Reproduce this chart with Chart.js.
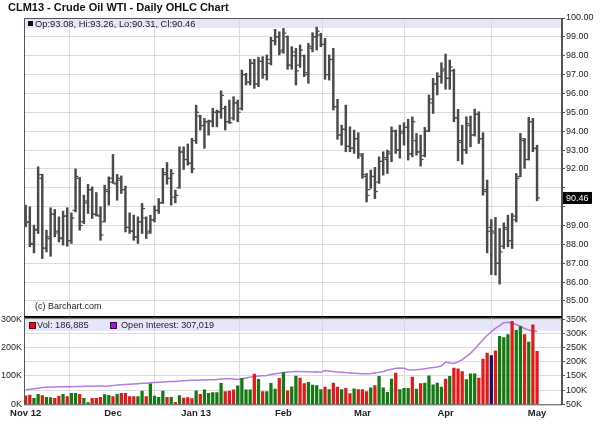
<!DOCTYPE html>
<html>
<head>
<meta charset="utf-8">
<script src="https://cdn.jsdelivr.net/npm/chart.js@4.4.1/dist/chart.umd.min.js"></script>
<style>
body { margin: 0; background: #fff; font-family: 'Liberation Sans', Arial, sans-serif; }
#wrap { position: relative; width: 600px; height: 439px; overflow: hidden; }
#wrap canvas { position: absolute; left: 0; z-index: 1; }
#priceCv { top: 0; }
#volCv { top: 300px; }
.band { position: absolute; left: 25px; width: 537px; background: #e6e6f8; z-index: 0; }
.txt { position: absolute; z-index: 2; color: #222; white-space: nowrap; }
.sq { position: absolute; z-index: 2; width: 5px; height: 5px; }
</style>
</head>
<body>
<div id="wrap">
  <div class="txt" style="left:8px;top:2px;font-weight:bold;font-size:11px;line-height:11px;color:#111">CLM13 - Crude Oil WTI - Daily OHLC Chart</div>
  <div class="band" style="top:19px;height:8.5px"></div>
  <div class="sq" style="left:28px;top:21px;background:#111"></div>
  <div class="txt" style="left:35px;top:18.5px;font-size:9.4px;line-height:10px">Op:93.08, Hi:93.26, Lo:90.31, Cl:90.46</div>
  <div class="txt" style="left:35px;top:301px;font-size:9px;line-height:10px">(c) Barchart.com</div>
  <div class="band" style="top:318px;height:13px"></div>
  <div class="sq" style="left:29px;top:322px;background:#e01010;border:0.5px solid #600"></div>
  <div class="txt" style="left:37px;top:320px;font-size:9.3px;line-height:10px">Vol: 186,885</div>
  <div class="sq" style="left:110px;top:322px;background:#9020d0;border:0.5px solid #404"></div>
  <div class="txt" style="left:121px;top:320px;font-size:9.1px;line-height:10px">Open Interest: 307,019</div>
  <canvas id="priceCv" width="600" height="325"></canvas>
  <canvas id="volCv" width="600" height="139"></canvas>
</div>
<script>
// month gridlines (bar index) and their labels
const monthIdx = [0, 21, 41, 62, 81, 101, 123];
const monthLbl = ['Nov 12', 'Dec', 'Jan 13', 'Feb', 'Mar', 'Apr', 'May'];
const priceTicks = [85, 86, 87, 88, 89, 90, 91, 92, 93, 94, 95, 96, 97, 98, 99, 100];
const volTicks = [0, 100, 200, 300];
const oiTicks = [50, 100, 150, 200, 250, 300, 350];

// daily OHLC, Nov 1 2012 .. May 1 2013
const hi = [90.08, 89.99, 89.02, 92.11, 91.72, 88.75, 89.94, 89.85, 89.46, 89.76,
  89.94, 89.67, 92.00, 91.55, 90.61, 91.18, 91.05, 90.75, 89.99, 91.14,
  91.58, 92.77, 91.71, 91.63, 91.09, 89.67, 89.55, 89.46, 90.17, 89.46,
  89.55, 90.04, 90.43, 92.03, 92.34, 91.97, 90.88, 93.17, 93.17, 93.32,
  93.62, 95.38, 94.85, 94.68, 94.59, 95.21, 95.12, 96.14, 95.33, 95.65,
  95.83, 95.65, 97.24, 97.07, 97.81, 97.81, 97.92, 97.95, 98.04, 98.98,
  99.40, 99.27, 99.45, 99.05, 98.48, 98.39, 98.57, 98.04, 98.66, 99.22,
  99.52, 99.19, 98.92, 98.04, 98.39, 95.69, 94.32, 95.38, 94.23, 94.06,
  93.92, 92.82, 91.76, 91.94, 92.08, 92.64, 92.91, 93.00, 94.23, 94.06,
  94.32, 94.45, 94.63, 94.76, 93.88, 93.79, 94.20, 95.92, 96.80, 97.10,
  97.63, 98.09, 97.77, 97.28, 95.16, 94.32, 94.76, 94.80, 95.17, 95.03,
  93.92, 91.41, 89.32, 89.43, 88.84, 89.14, 89.55, 89.64, 91.76, 93.88,
  93.62, 94.73, 94.68, 93.26];
const lo = [88.93, 87.87, 87.55, 88.58, 87.25, 87.60, 87.37, 88.40, 88.13, 87.96,
  87.90, 88.05, 89.72, 88.75, 89.10, 89.64, 89.37, 89.50, 88.22, 89.19,
  90.08, 91.23, 90.34, 90.70, 88.66, 88.58, 88.22, 88.05, 88.58, 88.31,
  88.58, 89.19, 89.64, 90.17, 91.19, 90.08, 90.20, 90.97, 91.97, 92.20,
  91.79, 93.35, 94.06, 93.09, 93.79, 94.23, 94.23, 94.68, 94.06, 94.41,
  94.59, 94.50, 95.12, 96.45, 96.45, 96.27, 96.36, 96.80, 96.71, 97.51,
  98.57, 98.04, 98.13, 97.28, 97.28, 96.45, 97.38, 96.89, 96.54, 98.21,
  98.30, 98.48, 96.75, 96.71, 95.12, 93.57, 93.26, 92.91, 92.91, 92.82,
  92.56, 91.50, 90.25, 90.97, 90.43, 91.23, 91.67, 91.76, 92.38, 92.82,
  92.57, 93.26, 92.47, 92.64, 92.73, 92.15, 92.64, 93.97, 94.94, 95.92,
  96.54, 96.22, 96.22, 94.50, 92.43, 92.25, 92.82, 93.17, 93.74, 93.35,
  90.61, 87.55, 86.40, 86.37, 85.89, 87.78, 87.87, 87.78, 89.19, 91.58,
  92.03, 92.47, 92.91, 90.31];
const op = [89.95, 89.20, 88.00, 88.80, 91.50, 87.80, 88.30, 89.60, 88.70, 88.30,
  89.50, 88.20, 89.80, 91.50, 89.20, 90.20, 90.90, 89.60, 89.50, 89.20,
  90.80, 91.50, 91.20, 91.40, 90.90, 88.90, 88.70, 88.40, 89.20, 89.40,
  88.70, 89.30, 89.80, 90.20, 91.70, 91.50, 90.50, 91.00, 92.90, 92.50,
  92.30, 93.50, 94.80, 94.30, 94.50, 94.50, 95.00, 95.00, 95.20, 94.50,
  94.70, 95.50, 95.20, 97.00, 96.60, 97.60, 96.50, 97.70, 97.00, 97.60,
  98.80, 99.00, 98.30, 99.00, 97.50, 98.00, 97.50, 98.00, 97.00, 98.40,
  99.00, 99.10, 98.60, 97.00, 97.80, 95.30, 93.80, 94.10, 93.20, 93.10,
  93.60, 92.70, 91.60, 90.90, 91.60, 91.30, 92.40, 92.50, 92.80, 94.00,
  93.00, 93.90, 94.20, 92.80, 93.50, 92.90, 92.70, 94.00, 95.50, 96.50,
  96.90, 97.30, 96.80, 97.20, 94.70, 93.40, 93.00, 94.30, 93.80, 94.90,
  93.60, 90.80, 88.90, 88.60, 87.00, 87.90, 88.80, 88.20, 89.30, 91.60,
  93.50, 92.50, 94.50, 93.08];
const cl = [89.15, 88.05, 88.75, 91.70, 87.80, 88.40, 89.60, 88.60, 88.35, 89.50,
  88.20, 89.40, 91.60, 89.00, 90.30, 90.90, 89.60, 89.55, 88.50, 90.90,
  91.30, 91.25, 91.50, 90.90, 88.90, 88.70, 88.40, 89.20, 89.90, 88.60,
  89.30, 89.80, 90.20, 91.80, 91.50, 91.75, 90.60, 92.90, 92.50, 92.30,
  92.00, 95.00, 94.30, 94.50, 94.55, 95.00, 95.05, 95.90, 94.50, 94.45,
  95.50, 95.00, 97.00, 96.60, 97.60, 96.50, 97.70, 97.00, 97.80, 98.80,
  99.00, 98.20, 99.20, 97.50, 98.20, 97.20, 98.30, 97.10, 98.50, 99.00,
  99.30, 98.60, 97.00, 97.80, 95.30, 93.80, 94.10, 93.20, 93.10, 93.60,
  92.80, 91.70, 90.60, 91.60, 90.80, 92.40, 92.60, 92.90, 94.00, 93.00,
  94.00, 94.20, 92.80, 94.50, 92.90, 92.50, 94.00, 95.70, 96.50, 96.90,
  97.20, 96.80, 97.40, 94.70, 93.50, 93.00, 94.40, 93.80, 94.90, 93.60,
  90.90, 88.70, 88.70, 87.00, 87.60, 88.90, 88.20, 89.50, 91.50, 93.60,
  92.50, 94.50, 93.10, 90.46];

// volume (thousands) with bar direction: u = up, d = down, n = unchanged
const vol = [30, 33, 21, 35, 31, 25, 24, 21, 29, 35,
  27, 39, 39, 35, 21, 6, 21, 21, 25, 34,
  32, 27, 35, 39, 39, 27, 27, 27, 47, 27,
  72, 29, 25, 47, 25, 25, 7, 31, 22, 24,
  20, 48, 35, 51, 39, 41, 41, 74, 45, 47,
  51, 65, 92, 51, 51, 107, 88, 45, 45, 74,
  54, 92, 112, 48, 62, 100, 93, 73, 78, 68,
  66, 52, 61, 52, 75, 61, 52, 56, 38, 55,
  52, 52, 45, 58, 66, 99, 58, 42, 89, 110,
  52, 56, 56, 96, 54, 73, 75, 101, 69, 75,
  61, 89, 99, 128, 125, 116, 87, 108, 108, 93,
  160, 181, 172, 189, 240, 236, 246, 293, 261, 275,
  246, 220, 281, 186.885];
const volDir = ['d', 'd', 'u', 'u', 'd', 'u', 'u', 'd', 'd', 'u',
  'd', 'u', 'u', 'd', 'u', 'u', 'd', 'd', 'd', 'u',
  'u', 'd', 'u', 'd', 'd', 'd', 'd', 'u', 'u', 'd',
  'u', 'u', 'u', 'u', 'd', 'u', 'd', 'u', 'd', 'd',
  'd', 'u', 'd', 'u', 'u', 'u', 'u', 'u', 'd', 'd',
  'd', 'u', 'u', 'u', 'u', 'd', 'u', 'd', 'u', 'u',
  'u', 'd', 'u', 'd', 'u', 'u', 'd', 'd', 'u', 'u',
  'u', 'u', 'd', 'u', 'd', 'd', 'u', 'd', 'd', 'u',
  'd', 'd', 'd', 'u', 'd', 'u', 'u', 'u', 'u', 'd',
  'u', 'u', 'u', 'd', 'u', 'd', 'u', 'u', 'u', 'u',
  'u', 'd', 'u', 'd', 'd', 'd', 'u', 'u', 'u', 'd',
  'd', 'd', 'n', 'd', 'u', 'u', 'u', 'd', 'u', 'u',
  'd', 'u', 'd', 'd'];
// open interest (thousands)
const oi = [101, 103, 105, 107, 109, 110, 111, 111, 112, 112, 113,
  112, 113, 113, 114, 114, 114, 115, 115, 114, 115,
  116, 118, 119, 120, 121, 122, 123, 124, 124, 126,
  127, 128, 129, 130, 131, 131, 132, 133, 134, 135,
  135, 136, 136, 137, 137, 138, 139, 140, 140, 139,
  138, 140, 143, 146, 148, 150, 151, 152, 155, 158,
  160, 162, 164, 165, 166,
  166, 165, 165, 164, 165, 163, 169, 168, 166, 164,
  163, 162, 161, 160, 159, 158, 158, 159, 161, 163,
  166, 170, 174, 177, 178, 177, 172, 171, 172, 174,
  176, 178, 180, 182, 186,
  199, 196, 194, 200, 208, 219, 230, 245, 262, 278,
  293, 306, 318, 328, 338, 340, 336, 332, 326, 318, 312, 309, 307];

const FONT = "'Liberation Sans', Arial, sans-serif";
Chart.defaults.font.family = FONT;
Chart.defaults.animation = false;

const idx = hi.map((_, i) => i);
const barGrey = '#4a4a4a';
const dirColor = { u: '#137a13', d: '#e21a1a', n: '#10106a' };

const xRange = { type: 'linear', min: -0.4, max: 129, offset: false };

// frame round the plot area, plus the heavy divider under the price panel
const framePlugin = {
  id: 'frame',
  afterDraw(chart, args, opts) {
    const { ctx, chartArea: a } = chart;
    ctx.save();
    ctx.strokeStyle = '#555';
    ctx.lineWidth = 1;
    ctx.strokeRect(a.left + 0.5, a.top + 0.5, a.right - a.left - 1, a.bottom - a.top);
    if (opts.heavyBottom) {
      ctx.strokeStyle = '#000';
      ctx.lineWidth = 2;
      ctx.beginPath();
      ctx.moveTo(a.left, a.bottom);
      ctx.lineTo(a.right, a.bottom);
      ctx.stroke();
    }
    if (opts.lastTag) {
      const last = cl[cl.length - 1];
      const y = chart.scales.y.getPixelForValue(last);
      const x = a.right + 1;
      ctx.fillStyle = '#000';
      ctx.fillRect(x, y - 6, 29, 12);
      ctx.fillStyle = '#fff';
      ctx.font = '9px ' + FONT;
      ctx.textBaseline = 'middle';
      ctx.fillText(last.toFixed(2), x + 3, y + 0.5);
    }
    ctx.restore();
  }
};

new Chart(document.getElementById('priceCv'), {
  type: 'bar',
  data: {
    datasets: [
      {
        data: idx.map(i => ({ x: i, y: [lo[i], hi[i]] })),
        backgroundColor: barGrey,
        barThickness: 1.8
      },
      {
        type: 'scatter',
        data: idx.map(i => ({ x: i - 0.4, y: op[i] })),
        pointStyle: 'line', pointRadius: 1.3, borderColor: barGrey, borderWidth: 1.2
      },
      {
        type: 'scatter',
        data: idx.map(i => ({ x: i + 0.4, y: cl[i] })),
        pointStyle: 'line', pointRadius: 1.3, borderColor: barGrey, borderWidth: 1.2
      }
    ]
  },
  options: {
    responsive: false,
    layout: { padding: { left: 24, top: 18, right: 0, bottom: 8 } },
    plugins: { legend: { display: false }, tooltip: { enabled: false }, frame: { heavyBottom: true, lastTag: true } },
    scales: {
      x: {
        ...xRange,
        grid: { color: '#dcdcdc', drawTicks: false },
        border: { display: false },
        ticks: { display: false },
        afterBuildTicks: s => { s.ticks = monthIdx.map(v => ({ value: v })); },
        afterFit: s => { s.height = 0; }
      },
      y: {
        position: 'right',
        min: 84.15,
        max: 100,
        grid: { color: '#dcdcdc', tickLength: 3, tickColor: '#555' },
        border: { color: '#555' },
        ticks: {
          font: { size: 9 }, color: '#222', padding: 1,
          callback: v => Math.abs(v - cl[cl.length - 1]) < 0.6 ? '' : v.toFixed(2)
        },
        afterBuildTicks: s => { s.ticks = priceTicks.map(v => ({ value: v })); },
        afterFit: s => { s.width = 38; }
      }
    }
  },
  plugins: [framePlugin]
});

new Chart(document.getElementById('volCv'), {
  type: 'bar',
  data: {
    datasets: [
      {
        data: idx.map(i => ({ x: i, y: vol[i] })),
        backgroundColor: volDir.map(d => dirColor[d]),
        barThickness: 2.6,
        yAxisID: 'yv'
      },
      {
        type: 'line',
        data: idx.map(i => ({ x: i, y: oi[i] })),
        borderColor: '#b77ae6',
        borderWidth: 1.5,
        pointRadius: 0,
        yAxisID: 'yo'
      }
    ]
  },
  options: {
    responsive: false,
    layout: { padding: { left: 0, top: 17.7, right: 0, bottom: 14.7 } },
    plugins: { legend: { display: false }, tooltip: { enabled: false }, frame: {} },
    scales: {
      x: {
        ...xRange,
        grid: { color: '#dcdcdc', drawTicks: false },
        border: { display: false },
        ticks: {
          font: { size: 9.5, weight: 'bold' }, color: '#222', padding: 3,
          maxRotation: 0, autoSkip: false,
          callback: v => monthLbl[monthIdx.indexOf(v)]
        },
        afterBuildTicks: s => { s.ticks = monthIdx.map(v => ({ value: v })); },
        afterFit: s => { s.height = 20; }
      },
      yv: {
        position: 'left',
        min: 0,
        max: 306,
        grid: { display: false, drawTicks: false },
        border: { color: '#555' },
        ticks: { font: { size: 9 }, color: '#222', padding: 2, callback: v => v + 'K' },
        afterBuildTicks: s => { s.ticks = volTicks.map(v => ({ value: v })); },
        afterFit: s => { s.width = 24; }
      },
      yo: {
        position: 'right',
        min: 50,
        max: 356,
        grid: { color: '#dcdcdc', tickLength: 3, tickColor: '#555' },
        border: { color: '#555' },
        ticks: { font: { size: 9 }, color: '#222', padding: 1, callback: v => v + 'K' },
        afterBuildTicks: s => { s.ticks = oiTicks.map(v => ({ value: v })); },
        afterFit: s => { s.width = 38; }
      }
    }
  },
  plugins: [framePlugin]
});
</script>
</body>
</html>
